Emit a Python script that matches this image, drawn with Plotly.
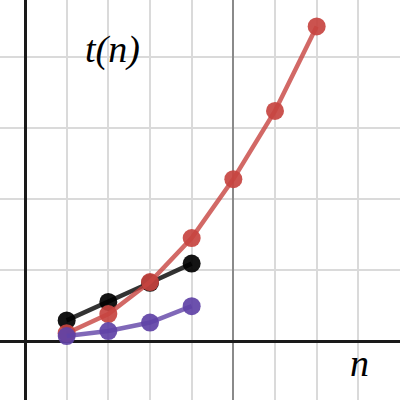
import plotly.graph_objects as go

# n values and t(n) readings (y in grid units)
n_short = [1, 2, 3, 4]
n_long = [1, 2, 3, 4, 5, 6, 7]
t_black = [0.29, 0.55, 0.82, 1.09]
t_red = [0.11, 0.38, 0.83, 1.45, 2.28, 3.24, 4.43]
t_purple = [0.07, 0.14, 0.26, 0.49]

fig = go.Figure()

def add_series(x, y, rgb):
    fig.add_trace(go.Scatter(
        x=x, y=y, mode="lines+markers",
        line=dict(color="rgba(%d,%d,%d,0.8)" % rgb, width=4.5),
        marker=dict(color="rgba(%d,%d,%d,0.92)" % rgb, size=18),
        hoverinfo="skip", showlegend=False,
    ))

add_series(n_short, t_black, (0, 0, 0))
add_series(n_long, t_red, (199, 68, 64))
add_series(n_short, t_purple, (96, 66, 166))

serif = dict(family="Liberation Serif, Times New Roman, serif", size=38, color="black")
fig.add_annotation(x=2.11, y=4.11, text="<i>t(n)</i>", showarrow=False, font=serif)
fig.add_annotation(x=8.02, y=-0.31, text="<i>n</i>", showarrow=False, font=serif)

xrange = [-0.6, 9.0]
axis_common = dict(
    showgrid=True, gridcolor="#dadada", gridwidth=2,
    zeroline=True, zerolinecolor="#1a1a1a", zerolinewidth=3,
    showticklabels=False, ticks="", showline=False, fixedrange=True,
)
fig.update_xaxes(range=xrange, dtick=1, **axis_common)
fig.update_yaxes(range=[-0.831, 4.803], dtick=1, **axis_common)

fig.update_layout(
    width=400, height=400, margin=dict(l=0, r=0, t=0, b=0),
    plot_bgcolor="white", paper_bgcolor="white",
    # major grid every 5 units, darker
    xaxis2=dict(overlaying="x", range=xrange, dtick=5, tick0=0,
                showgrid=True, gridcolor="#8a8a8a", gridwidth=2,
                zeroline=False, showticklabels=False, ticks="",
                showline=False, fixedrange=True),
)
fig.add_trace(go.Scatter(x=[], y=[], xaxis="x2", showlegend=False, hoverinfo="skip"))

fig.write_html("out.html", post_script="document.body.style.margin='0';",
               config={"displayModeBar": False})
